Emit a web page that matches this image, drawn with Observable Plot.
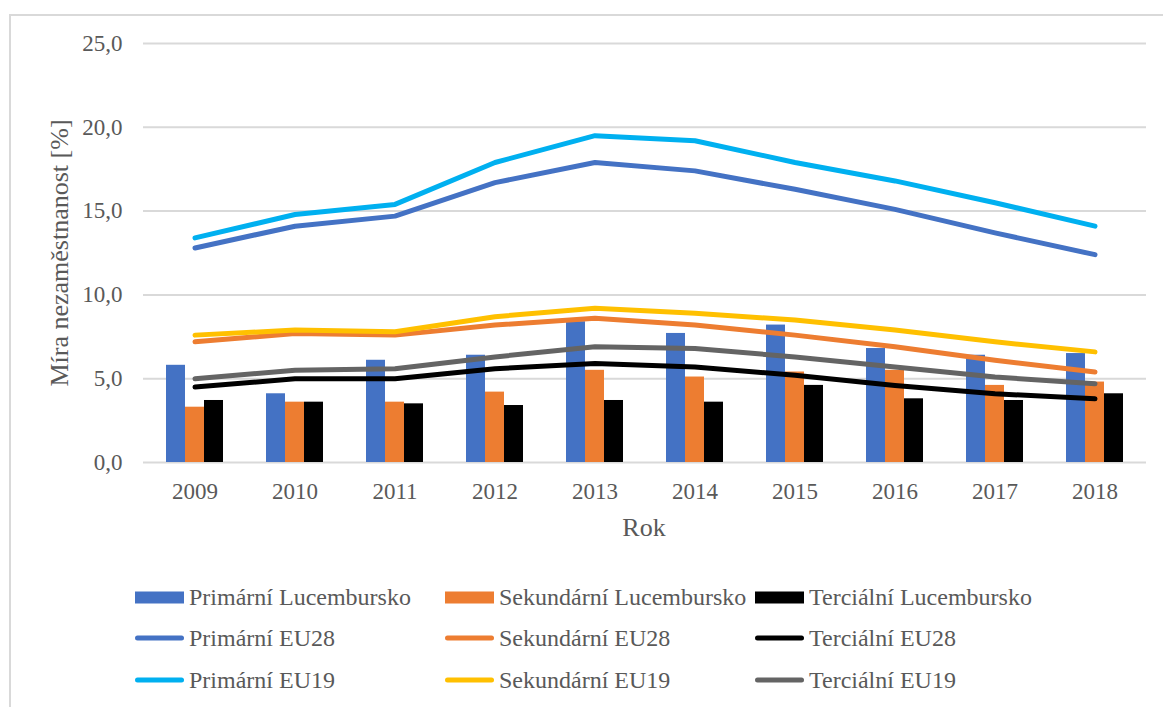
<!DOCTYPE html>
<html>
<head>
<meta charset="utf-8">
<script src="https://cdn.jsdelivr.net/npm/d3@7"></script>
<script src="https://cdn.jsdelivr.net/npm/@observablehq/plot@0.6"></script>
<style>
  html, body { margin: 0; padding: 0; background: #fff; width: 1163px; height: 707px; overflow: hidden; }
  #frame { position: absolute; left: 9px; top: 14px; width: 1300px; height: 900px; border: 2px solid #d9d9d9; box-sizing: border-box; }
  #chart { position: absolute; left: 0; top: 0; }
  .ttl { position: absolute; color: #595959; font-size: 26px; white-space: nowrap; }
  #ytitle { left: 60px; top: 253px; transform: translate(-50%, -50%) rotate(-90deg); }
  #xtitle { left: 644px; top: 528px; transform: translate(-50%, -50%); }
  #legend { position: absolute; left: 0; top: 0; color: #595959; font-size: 24px; }
  .item { position: absolute; display: flex; align-items: center; white-space: nowrap; transform: translateY(-50%); }
  .sw { width: 49px; margin-right: 5px; }
  .sw.bar { height: 12px; }
  .sw.line { height: 5px; border-radius: 3px; }
</style>
</head>
<body>
<div id="frame"></div>
<div id="chart"></div>
<div class="ttl" id="ytitle">Míra nezaměstnanost [%]</div>
<div class="ttl" id="xtitle">Rok</div>
<div id="legend"></div>
<script>
const FONT = '"Liberation Serif", "Times New Roman", serif';

const years = ["2009", "2010", "2011", "2012", "2013", "2014", "2015", "2016", "2017", "2018"];
const yTicks = [0, 5, 10, 15, 20, 25];

// Bars (Lucembursko)
const primarniLux   = [5.8, 4.1, 6.1, 6.4, 8.4, 7.7, 8.2, 6.8, 6.4, 6.5];
const sekundarniLux = [3.3, 3.6, 3.6, 4.2, 5.5, 5.1, 5.4, 5.5, 4.6, 4.8];
const tercialniLux  = [3.7, 3.6, 3.5, 3.4, 3.7, 3.6, 4.6, 3.8, 3.7, 4.1];

// Lines
const primarniEU28   = [12.8, 14.1, 14.7, 16.7, 17.9, 17.4, 16.3, 15.1, 13.7, 12.4];
const sekundarniEU28 = [7.2, 7.7, 7.6, 8.2, 8.6, 8.2, 7.6, 6.9, 6.1, 5.4];
const tercialniEU28  = [4.5, 5.0, 5.0, 5.6, 5.9, 5.7, 5.2, 4.6, 4.1, 3.8];
const primarniEU19   = [13.4, 14.8, 15.4, 17.9, 19.5, 19.2, 17.9, 16.8, 15.5, 14.1];
const sekundarniEU19 = [7.6, 7.9, 7.8, 8.7, 9.2, 8.9, 8.5, 7.9, 7.2, 6.6];
const tercialniEU19  = [5.0, 5.5, 5.6, 6.3, 6.9, 6.8, 6.3, 5.7, 5.1, 4.7];

const barSeries = [
  {name: "Primární Lucembursko", values: primarniLux, color: "#4472C4", dx: -19},
  {name: "Sekundární Lucembursko", values: sekundarniLux, color: "#ED7D31", dx: 0},
  {name: "Terciální Lucembursko", values: tercialniLux, color: "#000000", dx: 19}
];
const lineSeries = [
  {name: "Primární EU28", values: primarniEU28, color: "#4472C4"},
  {name: "Sekundární EU28", values: sekundarniEU28, color: "#ED7D31"},
  {name: "Terciální EU28", values: tercialniEU28, color: "#000000"},
  {name: "Primární EU19", values: primarniEU19, color: "#00B0F0"},
  {name: "Sekundární EU19", values: sekundarniEU19, color: "#FFC000"},
  {name: "Terciální EU19", values: tercialniEU19, color: "#646464"}
];

const rows = s => years.map((year, i) => ({year, value: s.values[i], series: s.name}));

const fmt = d => d.toFixed(1).replace(".", ",");

const chart = Plot.plot({
  width: 1163,
  height: 560,
  marginLeft: 143,
  marginRight: 17,
  marginTop: 43,
  marginBottom: 98,
  style: {fontSize: "23px", color: "#595959", background: "transparent"},
  x: {type: "band", domain: years, paddingInner: 0.81, paddingOuter: 0.405, label: null, tickSize: 0, tickPadding: 20},
  y: {domain: [0, 25], ticks: yTicks, tickFormat: fmt, label: null, tickSize: 0, tickPadding: 21},
  marks: [
    Plot.ruleY(yTicks, {stroke: "#d9d9d9", strokeWidth: 2}),
    ...barSeries.map(s => Plot.barY(rows(s), {x: "year", y: "value", fill: s.color, dx: s.dx, insetLeft: 0, insetRight: 0})),
    ...lineSeries.map(s => Plot.line(rows(s), {x: "year", y: "value", stroke: s.color, strokeWidth: 5, strokeLinecap: "round", strokeLinejoin: "round"}))
  ]
});
chart.style.fontFamily = FONT;
chart.querySelectorAll("text, g").forEach(n => n.style.fontFamily = FONT);
document.getElementById("chart").appendChild(chart);
document.getElementById("ytitle").style.fontFamily = FONT;
document.getElementById("xtitle").style.fontFamily = FONT;

// Legend
const legend = document.getElementById("legend");
const colX = [135, 445, 755];
const rowY = [597, 638, 680];
const legendItems = [
  ...barSeries.map(s => ({...s, kind: "bar"})),
  ...lineSeries.map(s => ({...s, kind: "line"}))
];
legendItems.forEach((s, i) => {
  const el = document.createElement("div");
  el.className = "item";
  el.style.left = colX[i % 3] + "px";
  el.style.top = rowY[Math.floor(i / 3)] + "px";
  el.style.fontFamily = FONT;
  const sw = document.createElement("div");
  sw.className = "sw " + s.kind;
  sw.style.background = s.color;
  const tx = document.createElement("span");
  tx.textContent = s.name;
  el.appendChild(sw);
  el.appendChild(tx);
  legend.appendChild(el);
});
</script>
</body>
</html>
